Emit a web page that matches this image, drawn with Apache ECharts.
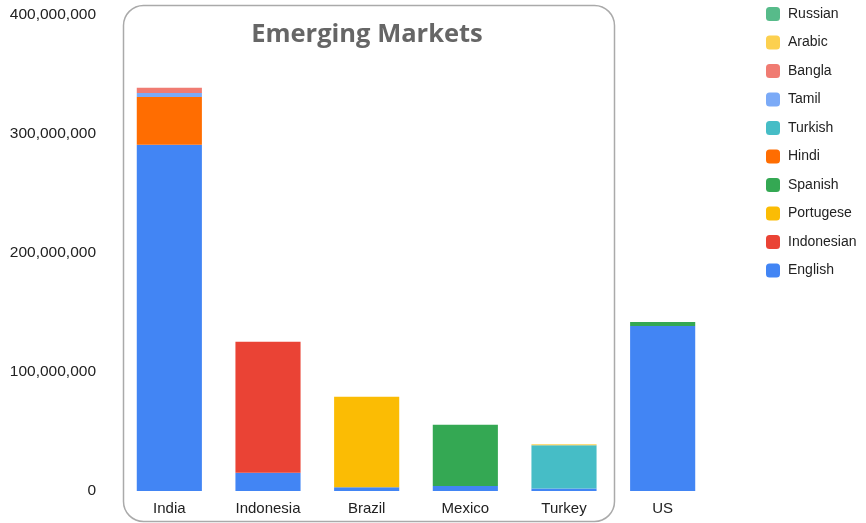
<!DOCTYPE html>
<html>
<head>
<meta charset="utf-8">
<script src="https://cdn.jsdelivr.net/npm/echarts@6/dist/echarts.min.js"></script>
<style>html,body{margin:0;padding:0;background:#fff}#c{width:866px;height:523px}</style>
</head>
<body>
<div id="c"></div>
<script>
const categories = ['India', 'Indonesia', 'Brazil', 'Mexico', 'Turkey', 'US'];
const yTicks = [0, 100000000, 200000000, 300000000, 400000000];
const English    = [291000000, 15400000, 3100000, 4200000, 2000000, 138700000];
const Indonesian = [0, 110000000, 0, 0, 0, 0];
const Portugese  = [0, 0, 76000000, 0, 0, 0];
const Spanish    = [0, 0, 0, 51500000, 0, 3400000];
const Hindi      = [40000000, 0, 0, 0, 0, 0];
const Turkish    = [0, 0, 0, 0, 36400000, 0];
const Tamil      = [3400000, 0, 0, 0, 0, 0];
const Bangla     = [4500000, 0, 0, 0, 0, 0];
const Arabic     = [0, 0, 0, 0, 900000, 0];
const Russian    = [0, 0, 0, 0, 0, 0];

const seriesDefs = [
  ['English', English, '#4285F4'],
  ['Indonesian', Indonesian, '#EA4335'],
  ['Portugese', Portugese, '#FBBC04'],
  ['Spanish', Spanish, '#34A853'],
  ['Hindi', Hindi, '#FF6D01'],
  ['Turkish', Turkish, '#46BDC6'],
  ['Tamil', Tamil, '#7BAAF7'],
  ['Bangla', Bangla, '#F07B72'],
  ['Arabic', Arabic, '#FCD04F'],
  ['Russian', Russian, '#57BB8A']
];

const chart = echarts.init(document.getElementById('c'), null, {renderer: 'canvas'});
const fmt = v => v.toLocaleString('en-US');
chart.setOption({
  animation: false,
  title: {
    text: 'Emerging Markets', left: 362, top: 17, textAlign: 'center',
    textStyle: {fontFamily: 'Open Sans', fontWeight: 'bold', fontSize: 25.5, color: '#666666'}
  },
  legend: {
    orient: 'vertical', left: 761, top: 2, itemGap: 14.5, itemWidth: 14, itemHeight: 14,
    icon: 'roundRect',
    data: seriesDefs.map(d => d[0]).slice().reverse(),
    textStyle: {fontFamily: 'Arial', fontSize: 14, color: '#222222', padding: [0, 0, 0, 3]}
  },
  graphic: [{
    type: 'rect', left: 121, top: 3, z: -1,
    shape: {width: 491, height: 516, r: 20},
    style: {fill: 'none', stroke: '#aaaaaa', lineWidth: 1.5}
  }],
  grid: {left: 120, right: 154, top: 15, bottom: 32, containLabel: false},
  xAxis: {
    type: 'category', data: categories,
    axisLine: {show: false}, axisTick: {show: false},
    axisLabel: {fontFamily: 'Arial', fontSize: 15, color: '#222222', margin: 10}
  },
  yAxis: {
    type: 'value', min: yTicks[0], max: yTicks[yTicks.length - 1], interval: yTicks[1] - yTicks[0],
    splitLine: {show: false}, axisLine: {show: false}, axisTick: {show: false},
    axisLabel: {fontFamily: 'Arial', fontSize: 15.5, color: '#222222', margin: 24, formatter: fmt}
  },
  series: seriesDefs.map(d => ({
    name: d[0], type: 'bar', stack: 'total', data: d[1],
    barCategoryGap: '34%',
    itemStyle: {color: d[2]}
  }))
});
</script>
</body>
</html>
